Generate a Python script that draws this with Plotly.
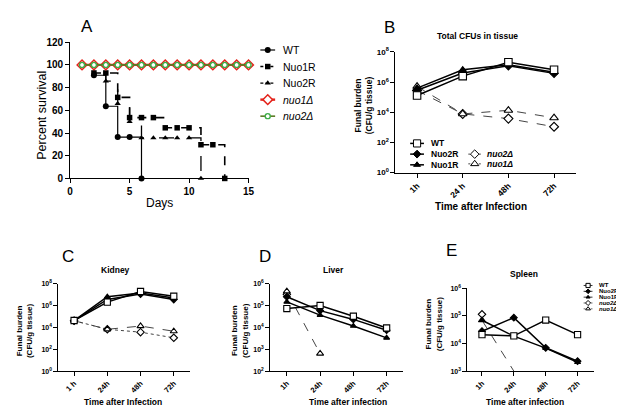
import plotly.graph_objects as go

# ---------------- DATA ----------------
# Panel A: survival (percent) by day
WT_DAYS = [1, 2, 3, 4, 5, 6]
WT_SURV = [100, 90.9, 63.6, 36.4, 36.4, 0]
NUO1R_DAYS = [1, 2, 3, 4, 5, 6, 7, 8, 9, 10, 11, 12, 13]
NUO1R_SURV = [100, 92.9, 92.9, 71.4, 53.6, 53.6, 53.6, 44.6, 44.6, 44.6, 29.7, 29.7, 0]
NUO2R_DAYS = [1, 2, 3, 4, 5, 6, 7, 8, 9, 10, 11]
NUO2R_SURV = [100, 100, 85.7, 66.0, 50.0, 35.7, 35.7, 35.7, 35.7, 35.7, 0]
NUO1D_DAYS = [1, 2, 3, 4, 5, 6, 7, 8, 9, 10, 11, 12, 13, 14, 15]
NUO1D_SURV = [100, 100, 100, 100, 100, 100, 100, 100, 100, 100, 100, 100, 100, 100, 100]
NUO2D_DAYS = [1, 2, 3, 4, 5, 6, 7, 8, 9, 10, 11, 12, 13, 14, 15]
NUO2D_SURV = [100, 100, 100, 100, 100, 100, 100, 100, 100, 100, 100, 100, 100, 100, 100]

# Time points (categories) and tick labels
TIMES = ["1h", "24h", "48h", "72h"]
TICKS_B = ["1h", "24 h", "48h", "72h"]
TICKS_C = ["1 h", "24h", "48h", "72h"]
TICKS_D = ["1h", "24h", "48h", "72h"]
TICKS_E = ["1h", "24h", "48h", "72h"]

# Panel B: total CFUs in tissue
B_WT = [1.3e5, 2.5e6, 2.1e7, 6.6e6]
B_NUO2R = [2.9e5, 4.0e6, 1.2e7, 3.8e6]
B_NUO1R = [4.0e5, 6.6e6, 1.4e7, 4.5e6]
B_NUO2D = [2.8e5, 7.8e3, 3.8e3, 1.1e3]
B_NUO1D = [5.2e5, 7.8e3, 1.35e4, 4.3e3]

# Panel C: kidney
C_WT = [4.2e4, 2.0e6, 1.9e7, 6.9e6]
C_NUO2R = [4.0e4, 3.5e6, 1.1e7, 3.5e6]
C_NUO1R = [4.0e4, 6.2e6, 1.35e7, 4.7e6]
C_NUO2D = [4.0e4, 6.6e3, 3.6e3, 1.1e3]
C_NUO1D = [4.0e4, 6.6e3, 1.3e4, 4.4e3]

# Panel D: liver
D_WT = [7.2e4, 1.0e5, 3.2e4, 9.3e3]
D_NUO2R = [2.5e5, 5.8e4, 2.3e4, 7.4e3]
D_NUO1R = [1.45e5, 3.6e4, 1.15e4, 3.3e3]
D_NUO2D = [3.2e5, None, None, None]
D_NUO1D = [4.4e5, 6.3e2, None, None]

# Panel E: spleen
E_WT = [2.1e4, 1.9e4, 7.1e4, 2.1e4]
E_NUO2R = [2.8e4, 8.7e4, 7.0e3, 2.3e3]
E_NUO1R = [7.0e4, 1.85e4, 6.8e3, 2.1e3]
E_NUO2D = [1.15e5, None, None, None]
E_NUO1D = [7.0e4, 1.0e3, None, None]

# ---------------- STYLE ----------------
W, H = 624, 408
FONT = "Liberation Sans, Arial, sans-serif"
BLACK = "#000000"
DASHGREY = "#444444"
RED = "#e4231b"
GREEN = "#3fae49"

STY = {
    "WT": dict(symbol="square", fill="white", size=6.5, dash="solid", width=1.5, color=BLACK),
    "Nuo2R": dict(symbol="diamond", fill=BLACK, size=5.5, dash="solid", width=1.5, color=BLACK),
    "Nuo1R": dict(symbol="triangle-up", fill=BLACK, size=5.5, dash="solid", width=1.5, color=BLACK),
    "nuo2Δ": dict(symbol="diamond", fill="white", size=6, dash="dash", width=1, color=DASHGREY),
    "nuo1Δ": dict(symbol="triangle-up", fill="white", size=6.5, dash="dash", width=1, color=DASHGREY),
}


def px_x(p):
    return p / W


def px_y(p):
    return 1 - p / H


fig = go.Figure()

# ---------------- PANEL A ----------------
A_SERIES = [
    ("WT", WT_DAYS, WT_SURV, dict(symbol="circle", size=6, color=BLACK, line=dict(width=0)), dict(color=BLACK, width=1.2, dash="solid")),
    ("Nuo1R", NUO1R_DAYS, NUO1R_SURV, dict(symbol="square", size=5.5, color=BLACK, line=dict(width=0)), dict(color=BLACK, width=1.6, dash="dash")),
    ("Nuo2R", NUO2R_DAYS, NUO2R_SURV, dict(symbol="triangle-up", size=5.5, color=BLACK, line=dict(width=0)), dict(color=BLACK, width=1.3, dash="longdash")),
    ("nuo1Δ", NUO1D_DAYS, NUO1D_SURV, dict(symbol="diamond", size=7.5, color="white", line=dict(color=RED, width=1.5)), dict(color=RED, width=2.4, dash="solid")),
    ("nuo2Δ", NUO2D_DAYS, NUO2D_SURV, dict(symbol="circle", size=5, color="white", line=dict(color=GREEN, width=1.4)), dict(color="#5a7a22", width=1.6, dash="solid")),
]
for name, xs, ys, mk, ln in A_SERIES:
    fig.add_trace(go.Scatter(x=xs, y=ys, mode="lines+markers", name=name, marker=mk,
                             line=dict(shape="hv", **ln), xaxis="x", yaxis="y",
                             cliponaxis=False, showlegend=False))


# ---------------- PANELS B-E ----------------
def add_panel(xa, ya, series, msize_scale=1.0, dotted_nuo2=False):
    for name, vals in series:
        s = STY[name]
        dash = s["dash"]
        if dotted_nuo2 and name == "nuo2Δ":
            dash = "dot"
        fig.add_trace(go.Scatter(
            x=list(range(len(TIMES))), y=vals, mode="lines+markers", name=name,
            marker=dict(symbol=s["symbol"], size=s["size"] * msize_scale, color=s["fill"],
                        line=dict(color=BLACK, width=1.1)),
            line=dict(color=s["color"], width=s["width"], dash=dash),
            xaxis=xa, yaxis=ya, cliponaxis=False, showlegend=False, connectgaps=False))


ORDER = ["nuo2Δ", "nuo1Δ", "Nuo1R", "Nuo2R", "WT"]
add_panel("x2", "y2", [(n, v) for n, v in zip(ORDER, [B_NUO2D, B_NUO1D, B_NUO1R, B_NUO2R, B_WT])], 1.15)
add_panel("x3", "y3", [(n, v) for n, v in zip(ORDER, [C_NUO2D, C_NUO1D, C_NUO1R, C_NUO2R, C_WT])], 0.95, dotted_nuo2=True)
add_panel("x4", "y4", [(n, v) for n, v in zip(ORDER, [D_NUO2D, D_NUO1D, D_NUO1R, D_NUO2R, D_WT])], 0.95)
add_panel("x5", "y5", [(n, v) for n, v in zip(ORDER, [E_NUO2D, E_NUO1D, E_NUO1R, E_NUO2R, E_WT])], 0.95)

# ---------------- AXES ----------------
base_ax = dict(showline=True, linecolor=BLACK, linewidth=1, ticks="outside", ticklen=4,
               tickwidth=1, tickcolor=BLACK, showgrid=False, zeroline=False, fixedrange=True)


def logticks(lo, hi, step):
    exps = list(range(lo, hi + 1, step))
    return [10 ** e for e in exps], ["10<sup>%d</sup>" % e for e in exps]


layout = dict(
    width=W, height=H, margin=dict(l=0, r=0, t=0, b=0),
    paper_bgcolor="white", plot_bgcolor="rgba(0,0,0,0)",
    font=dict(family=FONT, color=BLACK),
    showlegend=False,
    # Panel A
    xaxis=dict(base_ax, domain=[px_x(60), px_x(241)], range=[0, 15], tickvals=[0, 5, 10, 15],
               anchor="y", tickfont=dict(size=10, weight="bold")),
    yaxis=dict(base_ax, domain=[px_y(169), px_y(29)], range=[0, 120],
               tickvals=[0, 20, 40, 60, 80, 100, 120], anchor="x", tickfont=dict(size=10, weight="bold")),
)

panels = {
    "2": dict(x0=390, x1=573, y0=163, y1=39, xr=[-0.475, 3.475], yr=(0, 8, 2), ticks=TICKS_B, fs=8.5),
    "3": dict(x0=48, x1=182, y0=367, y1=277, xr=[-0.475, 3.5], yr=(0, 8, 2), ticks=TICKS_C, fs=7.5),
    "4": dict(x0=263, x1=398, y0=367, y1=277, xr=[-0.5, 3.5], yr=(2, 6, 1), ticks=TICKS_D, fs=7.5),
    "5": dict(x0=463, x1=592, y0=367, y1=282, xr=[-0.46, 3.53], yr=(3, 6, 1), ticks=TICKS_E, fs=7.5),
}
for k, p in panels.items():
    tv, tt = logticks(*p["yr"])
    layout["xaxis" + k] = dict(base_ax, domain=[px_x(p["x0"]), px_x(p["x1"])], range=p["xr"],
                               tickvals=list(range(len(TIMES))), ticktext=p["ticks"], tickangle=-45,
                               anchor="y" + k, tickfont=dict(size=p["fs"], weight="bold"))
    layout["yaxis" + k] = dict(base_ax, type="log", domain=[px_y(p["y0"]), px_y(p["y1"])],
                               range=[p["yr"][0], p["yr"][1]], tickvals=tv, ticktext=tt, anchor="x" + k,
                               tickfont=dict(size=p["fs"] - 0.5, weight="bold"))

# Overlay pixel axis for legends and labels
layout["xaxis6"] = dict(domain=[0, 1], range=[0, W], visible=False, fixedrange=True, anchor="y6")
layout["yaxis6"] = dict(domain=[0, 1], range=[H, 0], visible=False, fixedrange=True, anchor="x6")
fig.update_layout(**layout)

annotations = []


def text(x, y, s, size, bold=False, italic=False, angle=0, xanchor="center"):
    if bold:
        s = "<b>%s</b>" % s
    if italic:
        s = "<i>%s</i>" % s
    annotations.append(dict(x=x, y=y, xref="x6", yref="y6", text=s, showarrow=False,
                            font=dict(size=size, family=FONT, color=BLACK), textangle=angle,
                            xanchor=xanchor, yanchor="middle"))


def legend_glyph(x0, x1, y, mk, ln):
    fig.add_trace(go.Scatter(x=[x0, x1], y=[y, y], mode="lines", line=ln, xaxis="x6", yaxis="y6",
                             showlegend=False, hoverinfo="skip"))
    fig.add_trace(go.Scatter(x=[(x0 + x1) / 2], y=[y], mode="markers", marker=mk, xaxis="x6",
                             yaxis="y6", showlegend=False, hoverinfo="skip"))


# Legend A
A_LEG_ROWS = [37, 54, 71, 88, 105]
for (name, _, _, mk, ln), yy in zip(A_SERIES, A_LEG_ROWS):
    ln2 = dict(ln)
    if name in ("Nuo1R", "Nuo2R"):
        ln2["dash"] = "3px,2px"
    legend_glyph(253, 268, yy, mk, ln2)
    text(274, yy, name, 10.5, italic=("Δ" in name), xanchor="left")


def styled(name, size_scale=1.0, lw=None):
    s = STY[name]
    mk = dict(symbol=s["symbol"], size=s["size"] * size_scale, color=s["fill"],
              line=dict(color=BLACK, width=1.0))
    ln = dict(color=s["color"], width=lw if lw else s["width"],
              dash="solid" if s["dash"] == "solid" else "2px,1.5px")
    return mk, ln


# Legend B
B_LEG = [("WT", 405, 419, 133, 424), ("Nuo2R", 405, 419, 144, 424), ("Nuo1R", 405, 419, 155, 424),
         ("nuo2Δ", 464, 477, 144, 481), ("nuo1Δ", 464, 477, 154, 481)]
for name, gx0, gx1, gy, tx in B_LEG:
    mk, ln = styled(name, 1.1)
    legend_glyph(gx0, gx1, gy, mk, ln)
    text(tx, gy, name, 8.5, bold=True, italic=("Δ" in name), xanchor="left")

# Legend E
E_LEG = [("WT", 279), ("Nuo2R", 285), ("Nuo1R", 291), ("nuo2Δ", 297), ("nuo1Δ", 303)]
for name, gy in E_LEG:
    mk, ln = styled(name, 0.65, lw=0.8)
    legend_glyph(581, 590, gy, mk, ln)
    text(595, gy, name, 6, bold=True, italic=("Δ" in name), xanchor="left")

# Panel letters
for s, x, y in [("A", 77, 13), ("B", 384, 14), ("C", 58, 249), ("D", 258, 249), ("E", 447, 243)]:
    text(x, y, s, 17)

# Titles
text(473, 23, "Total CFUs in tissue", 8.5, bold=True)
text(106, 263, "Kidney", 8.5, bold=True)
text(327, 263, "Liver", 8.5, bold=True)
text(521, 267, "Spleen", 8.5, bold=True)

# Axis titles
text(32, 104, "Percent survival", 12.5, angle=-90)
text(151, 194, "Days", 12)
text(477, 198, "Time after Infection", 10, bold=True)
text(114, 399, "Time after Infection", 8.5, bold=True)
text(342, 399, "Time after infection", 8.5, bold=True)
text(522, 399, "Time after infection", 8.5, bold=True)
text(358, 94, "<b>Funal burden</b><br><b>(CFU/g tissue)</b>", 8.5, angle=-90)
text(13, 325, "<b>Funal burden</b><br><b>(CFU/g tissue)</b>", 8, angle=-90)
text(232, 325, "<b>Funal burden</b><br><b>(CFU/g tissue)</b>", 8, angle=-90)
text(429, 318, "<b>Funal burden</b><br><b>(CFU/g tissue)</b>", 8, angle=-90)

fig.update_layout(annotations=annotations)
fig.write_html("out.html")
